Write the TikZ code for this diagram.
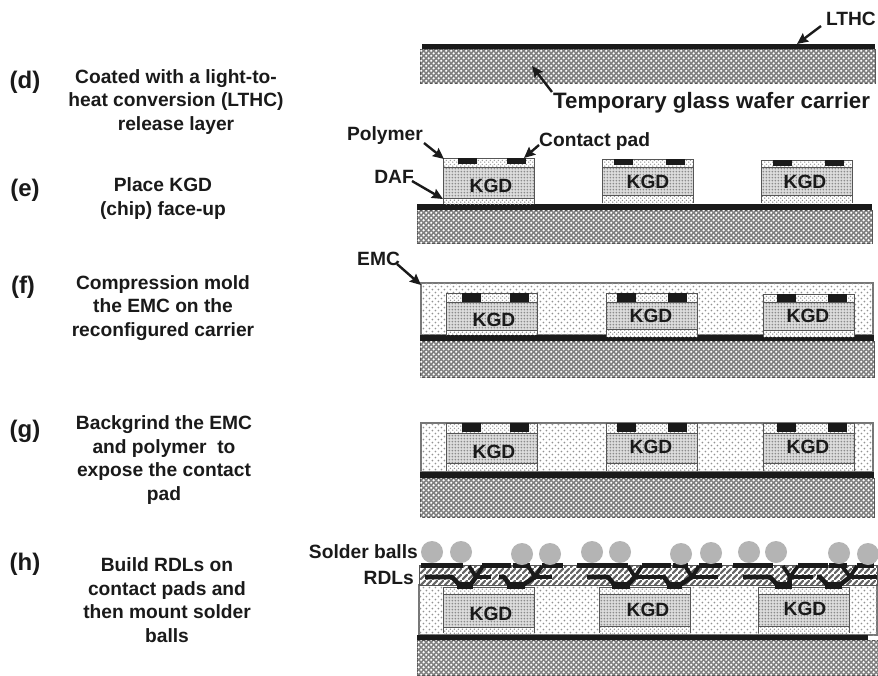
\documentclass[tikz,border=0pt]{standalone}
\usepackage{fontspec}
\setmainfont{Liberation Sans}
\usetikzlibrary{patterns,arrows.meta}
\definecolor{ink}{HTML}{1A1A1A}
\definecolor{edgeg}{HTML}{555555}
\definecolor{ballg}{HTML}{B4B4B4}
\definecolor{glassg}{HTML}{808080}
\definecolor{kgdg}{HTML}{DCDCDC}
\pgfdeclarepatternformonly{glassdots}{\pgfqpoint{0pt}{0pt}}{\pgfqpoint{5.4pt}{5.4pt}}{\pgfqpoint{5.4pt}{5.4pt}}{
 \pgfpathcircle{\pgfqpoint{1.35pt}{1.35pt}}{1.35pt}\pgfpathcircle{\pgfqpoint{4.05pt}{4.05pt}}{1.35pt}\pgfusepath{fill}}
\pgfdeclarepatternformonly{emcdots}{\pgfqpoint{0pt}{0pt}}{\pgfqpoint{6.4pt}{6.4pt}}{\pgfqpoint{6.4pt}{6.4pt}}{
 \pgfpathcircle{\pgfqpoint{1.6pt}{1.6pt}}{1.05pt}\pgfpathcircle{\pgfqpoint{4.8pt}{4.8pt}}{1.05pt}\pgfusepath{fill}}
\pgfdeclarepatternformonly{kgddots}{\pgfqpoint{0pt}{0pt}}{\pgfqpoint{3.3pt}{3.3pt}}{\pgfqpoint{3.3pt}{3.3pt}}{
 \pgfpathcircle{\pgfqpoint{1.65pt}{1.65pt}}{1.1pt}\pgfusepath{fill}}
\pgfdeclarepatternformonly{dafdots}{\pgfqpoint{0pt}{0pt}}{\pgfqpoint{4pt}{4pt}}{\pgfqpoint{4pt}{4pt}}{
 \pgfpathcircle{\pgfqpoint{1pt}{1pt}}{0.9pt}\pgfpathcircle{\pgfqpoint{3pt}{3pt}}{0.9pt}\pgfusepath{fill}}
\pgfdeclarepatternformonly{rdlhatch}{\pgfqpoint{0pt}{0pt}}{\pgfqpoint{6pt}{6pt}}{\pgfqpoint{6pt}{6pt}}{
 \pgfsetlinewidth{2.4pt}\pgfpathmoveto{\pgfqpoint{-1pt}{-1pt}}\pgfpathlineto{\pgfqpoint{7pt}{7pt}}\pgfusepath{stroke}}
\tikzset{
 x=1pt,y=-1pt,
 glass/.style={fill=glassg,draw=edgeg,line width=.9pt},
 glasstop/.style={pattern=glassdots,pattern color=white},
 blackbar/.style={fill=ink,draw=none},
 emc/.style={fill=white,draw=edgeg!80,line width=1.1pt},
 emctop/.style={pattern=emcdots,pattern color=gray!85},
 kgdbox/.style={draw=edgeg,line width=1pt},
 kgdtop/.style={pattern=kgddots,pattern color=gray!90},
 daftop/.style={pattern=dafdots,pattern color=gray!90},
 polytop/.style={pattern=dafdots,pattern color=gray!75},
 rdltop/.style={pattern=rdlhatch,pattern color=gray!80!black},
 viaarm/.style={draw=ink,line width=3.8pt,line join=round},
 viabar/.style={draw=ink,line width=4.6pt,line join=round},
 ball/.style={fill=ballg,draw=none},
 steplabel/.style={font=\fontsize{24}{26}\selectfont\bfseries,text=ink,inner sep=0pt},
 desc/.style={font=\fontsize{19.2}{23.5}\selectfont\bfseries,text=ink,align=center,inner sep=0pt},
 callout/.style={font=\fontsize{19.2}{21}\selectfont\bfseries,text=ink,inner sep=0pt},
 biglabel/.style={font=\fontsize{22.3}{24}\selectfont\bfseries,text=ink,inner sep=0pt},
 kgdlabel/.style={font=\fontsize{19.2}{21}\selectfont\bfseries,text=ink,inner sep=0pt},
 arrowline/.style={draw=ink,line width=2.4pt,-{Stealth[length=11pt,width=10pt,inset=1.5pt]}},
}
% #1 x-left, #2 y-poly-top, #3 y-kgd-top, #4 y-kgd-bottom, #5 y-daf-bottom, #6 pad1 x, #7 pad2 x, #8 pad height
\newcommand{\chipstack}[8]{
 \fill[white] (#1,#2) rectangle ++(91,#5-#2);
 \path[polytop] (#1,#2) rectangle ++(91,#3-#2);
 \draw[kgdbox] (#1,#2) rectangle ++(91,#3-#2);
 \fill[kgdg] (#1,#3) rectangle ++(91,#4-#3);
 \path[kgdtop] (#1,#3) rectangle ++(91,#4-#3);
 \draw[kgdbox] (#1,#3) rectangle ++(91,#4-#3);
 \path[daftop] (#1,#4+1.5) rectangle ++(91,#5-#4-1.5);
 \draw[edgeg,line width=1pt] (#1,#4) -- ++(0,#5-#4) (#1+91,#4) -- ++(0,#5-#4);
 \fill[ink] (#6,#2) rectangle ++(19,#8);
 \fill[ink] (#7,#2) rectangle ++(19,#8);
}
\begin{document}
\begin{tikzpicture}
\useasboundingbox (0,0) rectangle (878,675);
\fill[white] (0,0) rectangle (878,675);
% --- (d)
\path[glass] (420,49) rectangle (875,83); \path[glasstop] (420,49) rectangle (875,83);
\fill[blackbar] (422,43.5) rectangle (875,49);
% --- (e)
\path[glass] (417,210) rectangle (872,243); \path[glasstop] (417,210) rectangle (872,243);
\fill[blackbar] (417,204) rectangle (872,210);
\chipstack{443}{158}{167}{198}{204}{458}{507}{6}
\chipstack{602}{159}{167}{195}{203}{614}{666}{6}
\chipstack{761}{160}{167}{195}{203}{773}{825}{6}
% --- (f)
\path[emc] (421,283) rectangle (873,335); \path[emctop] (421,283) rectangle (873,335);
\path[glass] (420,341) rectangle (874,377); \path[glasstop] (420,341) rectangle (874,377);
\fill[blackbar] (420,335) rectangle (874,341);
\chipstack{446}{293}{302}{330}{335}{462}{510}{9}
\chipstack{606}{293}{302}{329}{337}{617}{668}{9}
\chipstack{763}{294}{302}{330}{337}{777}{828}{8}
% --- (g)
\path[emc] (421,423) rectangle (873,472); \path[emctop] (421,423) rectangle (873,472);
\path[glass] (420,478) rectangle (874,517); \path[glasstop] (420,478) rectangle (874,517);
\fill[blackbar] (420,472) rectangle (874,478);
\chipstack{446}{423}{433}{463}{471}{462}{510}{9}
\chipstack{606}{423}{433}{463}{471}{617}{668}{9}
\chipstack{763}{423}{433}{463}{471}{777}{828}{9}
% --- (h)
\path[glass] (417,640) rectangle (878,675); \path[glasstop] (417,640) rectangle (878,675);
\path[emc] (419,585) rectangle (877,635); \path[emctop] (419,585) rectangle (877,635);
\fill[white] (419,565) rectangle (877,585);
\path[rdltop] (419,565) rectangle (877,585);
\draw[edgeg,line width=.7pt] (419,565) rectangle (877,585);
\fill[blackbar] (417,635) rectangle (868,640);
\chipstack{443}{587}{594}{627}{633}{600}{600}{0}
\chipstack{599}{587}{594}{626}{633}{700}{700}{0}
\chipstack{758}{587}{594}{626}{633}{800}{800}{0}
% RDL top bars
\foreach \a/\b in {421/463,482/511,513/530,542/563,577/628,642/671,673/688,699/722,733/773,798/828,829/847,857/874}
  \fill[ink] (\a,563) rectangle (\b,568);
% vias: pad left/right, left bar from/to, arm left/right, stem, right bar end
\foreach \pl/\pr/\la/\lb/\al/\ar/\st/\re in {
  457/473/425/452/469/483/476/491,
  507/525/499/504/528/542/535/552,
  612/630/587/608/628/642/635/663,
  667/682/663/664/685/699/692/718,
  775/792/743/770/783/798/790/813,
  825/842/817/820/842/857/850/877}{
  \fill[ink] (\pl,582) rectangle (\pr,589);
  \draw[viabar] (\la,577) -- (\lb,577) -- (\pl+3,585.5);
  \draw[viaarm] (\al,566) -- (\st,577) -- (\ar,566);
  \draw[viabar] (\st,577) -- (\re,577);
  \draw[viabar] (\st,577) -- (\pr-3,585.5);
}
% solder balls
\foreach \c/\r in {432/552,461/552,522/554,550/554,592/552,620/552,681/554,711/553,749/552,776/552,839/553,868/554}
  \fill[ball] (\c,\r) circle (11);
% KGD labels
\node[kgdlabel] (kgd1) at (491,186) {KGD};
\node[kgdlabel] (kgd2) at (648,182) {KGD};
\node[kgdlabel] (kgd3) at (805,182) {KGD};
\node[kgdlabel] (kgd4) at (494,320) {KGD};
\node[kgdlabel] (kgd5) at (651,316) {KGD};
\node[kgdlabel] (kgd6) at (808,316) {KGD};
\node[kgdlabel] (kgd7) at (494,452) {KGD};
\node[kgdlabel] (kgd8) at (651,447) {KGD};
\node[kgdlabel] (kgd9) at (808,447) {KGD};
\node[kgdlabel] (kgd10) at (491,614) {KGD};
\node[kgdlabel] (kgd11) at (648,610) {KGD};
\node[kgdlabel] (kgd12) at (805,609) {KGD};
% callouts
\node[callout,anchor=east] (lthc) at (876,19) {LTHC};
\node[biglabel,anchor=base west] (temp) at (553,108) {Temporary glass wafer carrier};
\node[callout,anchor=east] (poly) at (423,136) {Polymer};
\node[callout,anchor=west] (pad) at (539,142) {Contact pad};
\node[callout,anchor=east] (daf) at (414,177) {DAF};
\node[callout,anchor=west] (emcl) at (357,259) {EMC};
\node[callout,anchor=east] (sb) at (418,552) {Solder balls};
\node[callout,anchor=east] (rdl) at (414,578) {RDLs};
% arrow ends
\coordinate (a1s) at (821,26); \coordinate (a1e) at (797,44);
\coordinate (a2s) at (552,92); \coordinate (a2e) at (532,66);
\coordinate (a3s) at (424,143); \coordinate (a3e) at (444,159);
\coordinate (a4s) at (539,145); \coordinate (a4e) at (524,158);
\coordinate (a5s) at (412,181); \coordinate (a5e) at (443,199);
\coordinate (a6s) at (397,264); \coordinate (a6e) at (421,285);
\foreach \i in {1,...,6} \draw[arrowline] (a\i s) -- (a\i e);
% step letters
\node[steplabel] (ld) at (25,82) {(d)};
\node[steplabel] (le) at (25,190) {(e)};
\node[steplabel] (lf) at (23,287) {(f)};
\node[steplabel] (lg) at (25,431) {(g)};
\node[steplabel] (lh) at (25,564) {(h)};
% descriptions
\node[desc] (dd) at (176,102) {Coated with a light-to-\\heat conversion (LTHC)\\release layer};
\node[desc] (de) at (163,198.5) {Place KGD\\(chip) face-up};
\node[desc] (df) at (163,308) {Compression mold\\the EMC on the\\reconfigured carrier};
\node[desc] (dg) at (164,460) {Backgrind the EMC\\and polymer\ \ to\\expose the contact\\pad};
\node[desc] (dh) at (167,600) {Build RDLs on\\contact pads and\\then mount solder\\balls};
\end{tikzpicture}
\end{document}
